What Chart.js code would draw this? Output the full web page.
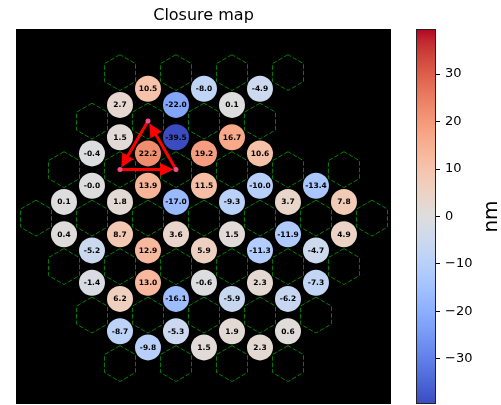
<!DOCTYPE html>
<html>
<head>
<meta charset="utf-8">
<script src="https://cdn.jsdelivr.net/npm/chart.js@4/dist/chart.umd.min.js"></script>
<style>
  html, body { margin: 0; padding: 0; background: #ffffff; }
  #wrap { position: relative; width: 501px; height: 405px; overflow: hidden; }
  #map { position: absolute; left: 0; top: 0; }
  #bar { position: absolute; left: 400px; top: 0; }
</style>
</head>
<body>
<div id="wrap">
  <canvas id="map" width="400" height="405"></canvas>
  <canvas id="bar" width="101" height="405"></canvas>
</div>
<script>
// Aperture holes (hexagonal segments), in units of the hole pitch
const holeX = [
  -1.5, -0.5, 0.5, 1.5,
  -2, -1, 0, 1,
  -2.5, -1.5, -0.5, 0.5, 1.5, 2.5,
  -3, -2, -1, 0, 1, 2, 3,
  -2.5, -1.5, -0.5, 0.5, 1.5, 2.5,
  -2, -1, 0, 1, 2,
  -1.5, -0.5, 0.5, 1.5
];
const holeY = [
  2.598, 2.598, 2.598, 2.598,
  1.732, 1.732, 1.732, 1.732,
  0.866, 0.866, 0.866, 0.866, 0.866, 0.866,
  0, 0, 0, 0, 0, 0, 0,
  -0.866, -0.866, -0.866, -0.866, -0.866, -0.866,
  -1.732, -1.732, -1.732, -1.732, -1.732,
  -2.598, -2.598, -2.598, -2.598
];

// Closure triangles: centroid position and closure value (nm)
const closX = [
  -1, 0, 1,
  -1.5, -0.5, 0.5,
  -1.5, -0.5, 0.5,
  -2, -1, 0, 1,
  -2, -1, 0, 1, 2,
  -2.5, -1.5, -0.5, 0.5, 1.5, 2.5,
  -2.5, -1.5, -0.5, 0.5, 1.5, 2.5,
  -2, -1, 0, 1, 2,
  -2, -1, 0, 1, 2,
  -1.5, -0.5, 0.5, 1.5,
  -1.5, -0.5, 0.5, 1.5,
  -1, 0, 1
];
const closY = [
  2.309, 2.309, 2.309,
  2.021, 2.021, 2.021,
  1.443, 1.443, 1.443,
  1.155, 1.155, 1.155, 1.155,
  0.577, 0.577, 0.577, 0.577, 0.577,
  0.289, 0.289, 0.289, 0.289, 0.289, 0.289,
  -0.289, -0.289, -0.289, -0.289, -0.289, -0.289,
  -0.577, -0.577, -0.577, -0.577, -0.577,
  -1.155, -1.155, -1.155, -1.155, -1.155,
  -1.443, -1.443, -1.443, -1.443,
  -2.021, -2.021, -2.021, -2.021,
  -2.309, -2.309, -2.309
];
const closVal = [
  10.5, -8.0, -4.9,
  2.7, -22.0, 0.1,
  1.5, -39.5, 16.7,
  -0.4, 22.2, 19.2, 10.6,
  -0.02, 13.9, 11.5, -10.0, -13.4,
  0.1, 1.8, -17.0, -9.3, 3.7, 7.8,
  0.4, 8.7, 3.6, 1.5, -11.9, 4.9,
  -5.2, 12.9, 5.9, -11.3, -4.7,
  -1.4, 13.0, -0.6, 2.3, -7.3,
  6.2, -16.1, -5.9, -6.2,
  -8.7, -5.3, 1.9, 0.6,
  -9.8, 1.5, 2.3
];

// Highlighted closure triangle (hole indices, in arrow order)
const triHoles = [5, 9, 10];

// Colour bar ticks
const cbTicks = [-30, -20, -10, 0, 10, 20, 30];
const cbLimit = Math.max(...closVal.map(Math.abs));

// coolwarm colour map
const COOLWARM = [
  [59,76,192],[68,90,204],[77,104,215],[87,117,225],[98,130,234],[108,142,241],
  [119,154,247],[130,165,251],[141,176,254],[152,185,255],[163,194,255],[174,201,253],
  [184,208,249],[194,213,244],[204,217,238],[213,219,230],[221,221,221],[229,216,209],
  [236,211,197],[241,204,185],[245,196,173],[247,187,160],[247,177,148],[247,166,135],
  [244,154,123],[241,141,111],[236,127,99],[229,112,88],[222,96,77],[213,80,66],
  [203,62,56],[192,40,47],[180,4,38]
];
function coolwarm(t) {
  t = Math.min(1, Math.max(0, t));
  const f = t * (COOLWARM.length - 1);
  const i = Math.min(COOLWARM.length - 2, Math.floor(f));
  const u = f - i;
  const a = COOLWARM[i], b = COOLWARM[i + 1];
  const c = a.map((v, k) => Math.round(v + (b[k] - v) * u));
  return `rgb(${c[0]},${c[1]},${c[2]})`;
}
const valueColor = v => coolwarm((v + cbLimit) / (2 * cbLimit));

const FONT = 'DejaVu Sans';
const HEX_R = 0.32;

function hexRing(cx, cy) {
  const pts = [];
  for (let k = 0; k <= 6; k++) {
    const a = Math.PI / 2 + k * Math.PI / 3;
    pts.push({ x: cx + HEX_R * Math.cos(a), y: cy + HEX_R * Math.sin(a) });
  }
  return pts;
}

const hexSets = holeX.map((x, i) => ({
  data: hexRing(x, holeY[i]),
  showLine: true,
  borderColor: '#008000',
  borderWidth: 1,
  borderDash: [4.5, 2],
  pointRadius: 0,
  fill: false,
  order: 2
}));

const closureSet = {
  data: closX.map((x, i) => ({ x: x, y: closY[i] })),
  pointRadius: 13,
  pointBackgroundColor: closVal.map(valueColor),
  pointBorderWidth: 0,
  pointBorderColor: 'rgba(0,0,0,0)',
  showLine: false,
  order: 1
};

const triPts = triHoles.map(i => ({ x: holeX[i], y: holeY[i] }));
const triangleSet = {
  data: triPts,
  showLine: false,
  pointRadius: 2.5,
  pointBackgroundColor: '#f0508c',
  pointBorderWidth: 0,
  order: 0
};

const blackField = {
  id: 'blackField',
  beforeDatasetsDraw(chart) {
    const a = chart.chartArea, ctx = chart.ctx;
    ctx.save();
    ctx.fillStyle = '#000000';
    ctx.fillRect(a.left, a.top, a.right - a.left, a.bottom - a.top);
    ctx.restore();
  }
};

// red arrows around the highlighted triangle, drawn above the closure circles
const arrows = {
  id: 'arrows',
  afterDatasetDraw(chart, args) {
    if (chart.data.datasets[args.index] !== closureSet) return;
    const xs = chart.scales.x, ys = chart.scales.y, ctx = chart.ctx;
    const p = triPts.map(q => ({ x: xs.getPixelForValue(q.x), y: ys.getPixelForValue(q.y) }));
    ctx.save();
    ctx.strokeStyle = '#ff0000';
    ctx.fillStyle = '#ff0000';
    ctx.lineWidth = 3;
    ctx.lineCap = 'butt';
    for (let k = 0; k < p.length; k++) {
      const a = p[k], b = p[(k + 1) % p.length];
      const dx = b.x - a.x, dy = b.y - a.y, len = Math.hypot(dx, dy);
      const ux = dx / len, uy = dy / len;
      const tip = { x: b.x - ux * 2.5, y: b.y - uy * 2.5 };
      const base = { x: tip.x - ux * 13.5, y: tip.y - uy * 13.5 };
      ctx.beginPath();
      ctx.moveTo(a.x, a.y);
      ctx.lineTo(base.x + ux, base.y + uy);
      ctx.stroke();
      ctx.beginPath();
      ctx.moveTo(tip.x, tip.y);
      ctx.lineTo(base.x - uy * 6.5, base.y + ux * 6.5);
      ctx.lineTo(base.x + uy * 6.5, base.y - ux * 6.5);
      ctx.closePath();
      ctx.fill();
    }
    ctx.restore();
  }
};

const valueLabels = {
  id: 'valueLabels',
  afterDatasetsDraw(chart) {
    const idx = chart.data.datasets.indexOf(closureSet);
    const meta = chart.getDatasetMeta(idx);
    const ctx = chart.ctx;
    ctx.save();
    ctx.font = `bold 7.5px "${FONT}"`;
    ctx.fillStyle = '#000000';
    ctx.textAlign = 'center';
    ctx.textBaseline = 'middle';
    meta.data.forEach((el, i) => {
      ctx.fillText(closVal[i].toFixed(1), el.x, el.y + 0.5);
    });
    ctx.restore();
  }
};

new Chart(document.getElementById('map'), {
  type: 'scatter',
  data: { datasets: [triangleSet, closureSet, ...hexSets] },
  options: {
    responsive: false,
    animation: false,
    devicePixelRatio: 1,
    events: [],
    layout: { autoPadding: false, padding: { left: 16, right: 9, top: 0, bottom: 1 } },
    scales: {
      x: { type: 'linear', display: false, min: -3.357, max: 3.34 },
      y: { type: 'linear', display: false, min: -3.32, max: 3.377 }
    },
    plugins: {
      legend: { display: false },
      tooltip: { enabled: false },
      title: {
        display: true,
        text: 'Closure map',
        color: '#000000',
        font: { family: FONT, size: 16, weight: 'normal' },
        padding: { top: 5.8, bottom: 4 }
      }
    }
  },
  plugins: [blackField, arrows, valueLabels]
});

// Colour bar
const gradientFill = {
  id: 'gradientFill',
  beforeDatasetsDraw(chart) {
    const a = chart.chartArea, ctx = chart.ctx;
    const g = ctx.createLinearGradient(0, a.bottom, 0, a.top);
    COOLWARM.forEach((c, i) => g.addColorStop(i / (COOLWARM.length - 1), `rgb(${c[0]},${c[1]},${c[2]})`));
    ctx.save();
    ctx.fillStyle = g;
    ctx.fillRect(a.left, a.top, a.right - a.left, a.bottom - a.top);
    ctx.strokeStyle = '#222222';
    ctx.lineWidth = 1;
    ctx.strokeRect(a.left + 0.5, a.top + 0.5, a.right - a.left - 1, a.bottom - a.top - 1);
    ctx.restore();
  },
  afterDraw(chart) {
    const a = chart.chartArea, ctx = chart.ctx;
    ctx.save();
    ctx.translate(92, (a.top + a.bottom) / 2);
    ctx.rotate(-Math.PI / 2);
    ctx.font = `20px "${FONT}"`;
    ctx.fillStyle = '#000000';
    ctx.textAlign = 'center';
    ctx.textBaseline = 'middle';
    ctx.fillText('nm', 0, 0);
    ctx.restore();
  }
};

new Chart(document.getElementById('bar'), {
  type: 'scatter',
  data: { datasets: [{ data: [] }] },
  options: {
    responsive: false,
    animation: false,
    devicePixelRatio: 1,
    events: [],
    layout: { autoPadding: false, padding: { left: 16, right: 0, top: 29, bottom: 1 } },
    scales: {
      x: { type: 'linear', display: false, min: 0, max: 1 },
      y: {
        type: 'linear',
        position: 'right',
        min: -cbLimit,
        max: cbLimit,
        afterBuildTicks: s => { s.ticks = cbTicks.map(v => ({ value: v })); },
        afterFit: s => { s.width = 65; s.paddingTop = 0; s.paddingBottom = 0; },
        border: { display: false },
        grid: { drawOnChartArea: false, drawTicks: true, tickLength: 4, tickColor: '#000000', color: '#000000' },
        ticks: {
          color: '#000000',
          padding: 5,
          font: { family: FONT, size: 13 },
          callback: v => (v < 0 ? '\u2212' + Math.abs(v) : String(v))
        }
      }
    },
    plugins: { legend: { display: false }, tooltip: { enabled: false }, title: { display: false } }
  },
  plugins: [gradientFill]
});
</script>
</body>
</html>
